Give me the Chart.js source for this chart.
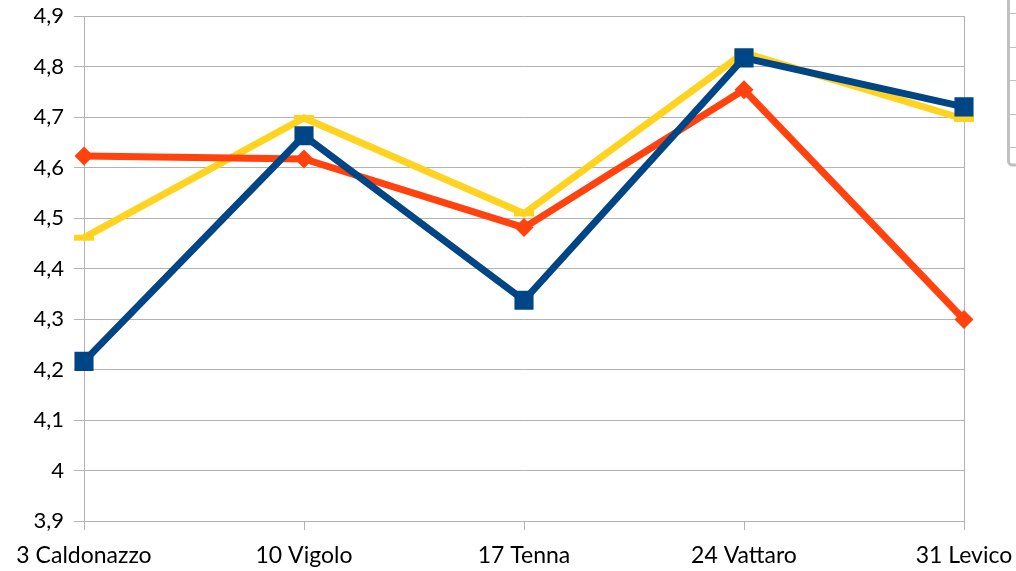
<!DOCTYPE html>
<html>
<head>
<meta charset="utf-8">
<script src="https://cdn.jsdelivr.net/npm/chart.js@4/dist/chart.umd.min.js"></script>
<style>
  html, body { margin: 0; padding: 0; background: #fff; }
  #wrap { width: 1016px; height: 571px; }
</style>
</head>
<body>
<div id="wrap"><canvas id="myLineChart"></canvas></div>
<script>
const categories = ['3 Caldonazzo', '10 Vigolo', '17 Tenna', '24 Vattaro', '31 Levico'];
const serie1 = [4.216, 4.663, 4.337, 4.817, 4.72];
const serie2 = [4.623, 4.617, 4.481, 4.754, 4.299];
const serie3 = [4.461, 4.698, 4.509, 4.827, 4.696];
const yMin = 3.9;
const yMax = 4.9;
const yStep = 0.1;

// grey box cut off at the right edge (legend frame)
const legendFrame = {
    id: 'legendFrame',
    afterDraw(chart) {
        const c = chart.ctx;
        c.save();
        c.strokeStyle = '#c0c0c0';
        c.lineWidth = 3;
        c.beginPath();
        c.roundRect(1008.5, -10, 30, 175, 4);
        c.stroke();
        c.lineWidth = 1;
        [13, 47, 80, 114, 147].forEach(y => {
            c.beginPath();
            c.moveTo(1010, y + 0.5);
            c.lineTo(1016, y + 0.5);
            c.stroke();
        });
        c.restore();
    }
};

const ctx = document.getElementById('myLineChart');
new Chart(ctx, {
    type: 'line',
    data: {
        labels: categories,
        datasets: [{
            label: 'Serie 1',
            data: serie1,
            borderColor: '#004586',
            backgroundColor: '#004586',
            borderWidth: 7,
            pointStyle: 'rect',
            pointRadius: 13.5,
            pointBorderWidth: 0,
            pointHoverRadius: 13.5
        }, {
            label: 'Serie 2',
            data: serie2,
            borderColor: '#ff420e',
            backgroundColor: '#ff420e',
            borderWidth: 7,
            pointStyle: 'rectRot',
            pointRadius: 9.5,
            pointBorderWidth: 0,
            pointHoverRadius: 9.5
        }, {
            label: 'Serie 3',
            data: serie3,
            borderColor: '#ffd320',
            backgroundColor: '#ffd320',
            borderWidth: 7,
            pointStyle: 'line',
            pointRadius: 10,
            pointBorderWidth: 6,
            pointHoverRadius: 10
        }]
    },
    options: {
        responsive: true,
        maintainAspectRatio: false,
        animation: false,
        layout: { padding: { left: 0, right: 52, top: 15, bottom: 0 } },
        plugins: {
            legend: { display: false },
            tooltip: { enabled: false }
        },
        elements: { line: { tension: 0 } },
        scales: {
            x: {
                offset: false,
                afterFit: s => {
                    s.height = 50;
                    s.paddingLeft = 0;
                    s.paddingRight = 0;
                },
                grid: {
                    color: c => c.index === categories.length - 1 ? '#b3b3b3' : 'transparent',
                    tickColor: '#b3b3b3',
                    tickLength: 9,
                    drawOnChartArea: true
                },
                border: { color: '#b3b3b3' },
                ticks: {
                    color: '#000',
                    padding: 12,
                    maxRotation: 0,
                    font: { family: 'Lato', size: 23 }
                }
            },
            y: {
                min: yMin,
                max: yMax,
                afterFit: s => {
                    s.width = 84;
                    s.paddingTop = 0;
                    s.paddingBottom = 0;
                },
                grid: { color: '#b3b3b3', tickLength: 10 },
                border: { color: '#b3b3b3' },
                ticks: {
                    stepSize: yStep,
                    color: '#000',
                    padding: 10,
                    font: { family: 'Lato', size: 22 },
                    callback: v => String(Math.round(v * 10) / 10).replace('.', ',')
                }
            }
        }
    },
    plugins: [legendFrame]
});
</script>
</body>
</html>
